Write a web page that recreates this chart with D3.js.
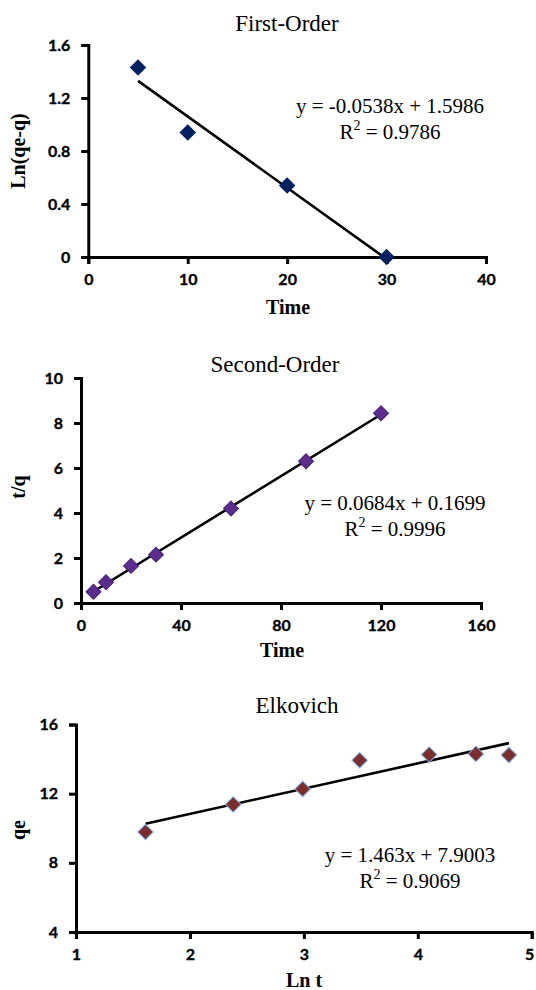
<!DOCTYPE html>
<html>
<head>
<meta charset="utf-8">
<script src="https://cdn.jsdelivr.net/npm/d3@7"></script>
<style>
  body { margin: 0; background: #fff; }
  svg { display: block; }
</style>
</head>
<body>
<script>
// values
var firstTime = [5, 10, 20, 30];
var firstLnQ = [1.43, 0.94, 0.54, 0.0];
var firstXTicks = [0, 10, 20, 30, 40];
var firstYTicks = [0, 0.4, 0.8, 1.2, 1.6];
var firstFit = [-0.0538, 1.5986];

var secondTime = [5, 10, 20, 30, 60, 90, 120];
var secondTQ = [0.5, 0.92, 1.65, 2.15, 4.2, 6.3, 8.43];
var secondXTicks = [0, 40, 80, 120, 160];
var secondYTicks = [0, 2, 4, 6, 8, 10];
var secondFit = [0.0684, 0.1699];

var elkLnT = [1.61, 2.38, 2.99, 3.49, 4.10, 4.51, 4.80];
var elkQe = [9.78, 11.38, 12.27, 13.93, 14.26, 14.30, 14.24];
var elkXTicks = [1, 2, 3, 4, 5];
var elkYTicks = [4, 8, 12, 16];
var elkFit = [1.463, 7.9003];

var titles = ["First-Order", "Second-Order", "Elkovich"];
var xTitles = ["Time", "Time", "Ln t"];
var yTitles = ["Ln(qe-q)", "t/q", "qe"];
var equations = ["y = -0.0538x + 1.5986", "y = 0.0684x + 0.1699", "y = 1.463x + 7.9003"];
var rSquared = ["0.9786", "0.9996", "0.9069"];

var w = 536;
var h = 990;
var svg = d3.select("body").append("svg").attr("width", w).attr("height", h);
svg.append("rect").attr("width", w).attr("height", h).attr("fill", "#fff");

// geometry of each panel (pixel frame, text spots)
var panels = [
    {x: firstTime, y: firstLnQ, xt: firstXTicks, yt: firstYTicks, fit: firstFit,
     xr: [88.3, 486], yr: [257, 45], fill: "#002060", stroke: "none", size: 16.5,
     title: [287, 31], eq: [390, 113], xlab: [288, 314], ylab: [25, 151]},
    {x: secondTime, y: secondTQ, xt: secondXTicks, yt: secondYTicks, fit: secondFit,
     xr: [81, 481], yr: [603, 378], fill: "#5b2d8c", stroke: "#4a2275", size: 15,
     title: [275, 372], eq: [395, 510], xlab: [282, 657], ylab: [25, 487]},
    {x: elkLnT, y: elkQe, xt: elkXTicks, yt: elkYTicks, fit: elkFit,
     xr: [76, 531.7], yr: [932, 724.5], fill: "#7b2e2e", stroke: "#7fb0e6", size: 15.5,
     title: [297, 713], eq: [410, 862], xlab: [304, 987], ylab: [25, 830]}
];

var plain = function (d) { return String(d); };

panels.forEach(function (p, k) {
    var x = d3.scaleLinear().domain(d3.extent(p.xt)).range(p.xr);
    var y = d3.scaleLinear().domain(d3.extent(p.yt)).range(p.yr);
    var g = svg.append("g");

    var xAxis = g.append("g")
        .attr("transform", "translate(0," + p.yr[0] + ")")
        .call(d3.axisBottom(x).tickValues(p.xt).tickFormat(plain).tickSize(7).tickPadding(9.5));
    var yAxis = g.append("g")
        .attr("transform", "translate(" + p.xr[0] + ",0)")
        .call(d3.axisLeft(y).tickValues(p.yt).tickFormat(plain).tickSize(7).tickPadding(11));

    [xAxis, yAxis].forEach(function (a) {
        a.selectAll("path, line").attr("stroke", "#000").attr("stroke-width", 3);
        a.selectAll("text")
            .attr("fill", "#000")
            .attr("stroke", "#000")
            .attr("stroke-width", 0.35)
            .style("font-family", "Lato, 'DejaVu Sans', sans-serif")
            .style("font-weight", "bold")
            .style("font-size", "16px");
    });
    // keep the last x label inside the page edge
    xAxis.selectAll(".tick:last-of-type text").attr("dx", k === 2 ? -2.5 : 0);

    // trendline over the span of the data
    var x0 = d3.min(p.x), x1 = d3.max(p.x);
    g.append("line")
        .attr("x1", x(x0)).attr("y1", y(p.fit[0] * x0 + p.fit[1]))
        .attr("x2", x(x1)).attr("y2", y(p.fit[0] * x1 + p.fit[1]))
        .attr("stroke", "#000").attr("stroke-width", 2.6);

    var side = p.size / Math.SQRT2;
    g.selectAll(".pt")
        .data(p.x.map(function (d, i) { return [d, p.y[i]]; }))
        .enter().append("path")
        .attr("d", d3.symbol().type(d3.symbolSquare).size(side * side))
        .attr("transform", function (d) {
            return "translate(" + x(d[0]) + "," + y(d[1]) + ") rotate(45)";
        })
        .attr("fill", p.fill)
        .attr("stroke", p.stroke)
        .attr("stroke-width", p.stroke === "none" ? 0 : 1);

    var serif = "'Liberation Serif', 'Times New Roman', serif";

    g.append("text").text(titles[k])
        .attr("x", p.title[0]).attr("y", p.title[1])
        .attr("text-anchor", "middle")
        .style("font-family", serif).style("font-size", "23px");

    g.append("text").text(xTitles[k])
        .attr("x", p.xlab[0]).attr("y", p.xlab[1])
        .attr("text-anchor", "middle")
        .style("font-family", serif).style("font-weight", "bold").style("font-size", "20px");

    g.append("text").text(yTitles[k])
        .attr("transform", "translate(" + p.ylab[0] + "," + p.ylab[1] + ") rotate(-90)")
        .attr("text-anchor", "middle")
        .style("font-family", serif).style("font-weight", "bold").style("font-size", "20px");

    g.append("text").text(equations[k])
        .attr("x", p.eq[0]).attr("y", p.eq[1])
        .attr("text-anchor", "middle")
        .style("font-family", serif).style("font-size", "21px");

    var r2 = g.append("text")
        .attr("x", p.eq[0]).attr("y", p.eq[1] + 26)
        .attr("text-anchor", "middle")
        .style("font-family", serif).style("font-size", "21px");
    r2.append("tspan").text("R");
    r2.append("tspan").text("2").attr("dy", -9).style("font-size", "14px");
    r2.append("tspan").text(" = " + rSquared[k]).attr("dy", 9);
});
</script>
</body>
</html>
